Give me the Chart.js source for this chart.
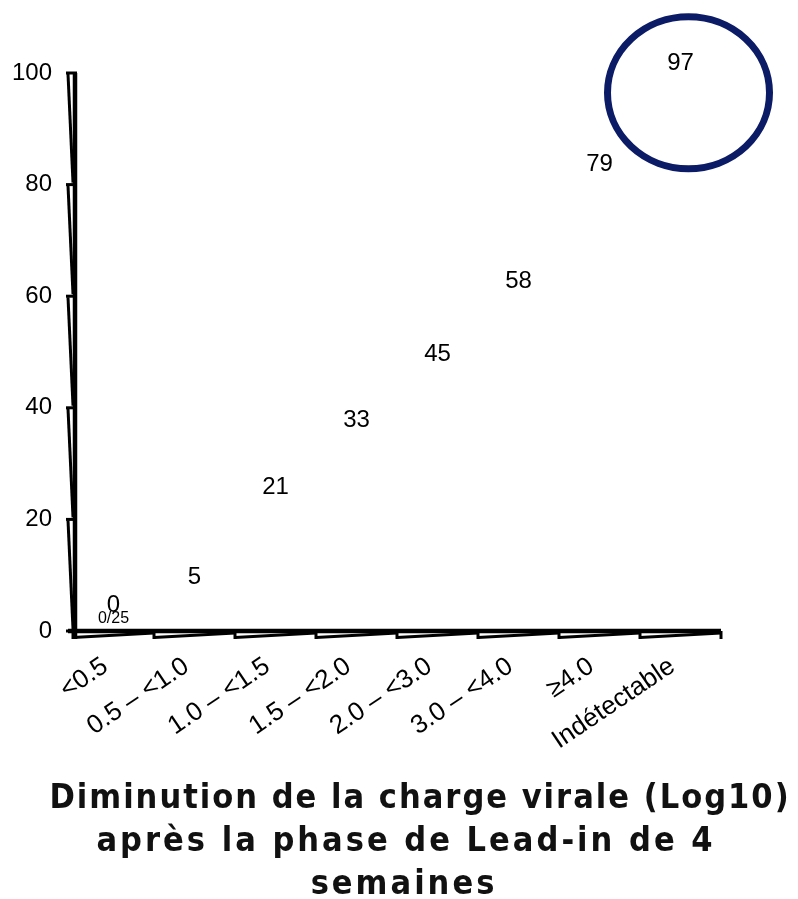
<!DOCTYPE html>
<html>
<head>
<meta charset="utf-8">
<script src="https://cdn.jsdelivr.net/npm/chart.js@4.4.1/dist/chart.umd.min.js"></script>
<style>
  body { margin: 0; background: #fff; }
</style>
</head>
<body>
<canvas id="chart" width="798" height="899"></canvas>
<script>
// données
const categories = ["<0.5", "0.5 – <1.0", "1.0 – <1.5", "1.5 – <2.0", "2.0 – <3.0", "3.0 – <4.0", "≥4.0", "Indétectable"];
const values = [0, 5, 21, 33, 45, 58, 79, 97];
const subLabels = ["0/25", "", "", "", "", "", "", ""];
const yTicks = [0, 20, 40, 60, 80, 100];
const titleLines = ["Diminution de la charge virale (Log10)", "après la phase de Lead-in de 4", "semaines"];
const circledIndex = 7;

const arial = "'Liberation Sans', Arial, sans-serif";

// axes dessinés "en relief" comme dans l'original
const fakeAxes = {
  id: "fakeAxes",
  afterDraw(chart) {
    const ctx = chart.ctx;
    const area = chart.chartArea;
    const y = chart.scales.y;
    ctx.save();
    ctx.strokeStyle = "#000";
    ctx.lineCap = "butt";

    // axe vertical
    ctx.lineWidth = 4.5;
    ctx.beginPath();
    ctx.moveTo(area.left + 2, area.top);
    ctx.lineTo(area.left + 2, area.bottom + 8);
    ctx.stroke();

    ctx.lineWidth = 3;
    for (let i = 0; i < yTicks.length; i++) {
      const py = y.getPixelForValue(yTicks[i]);
      ctx.beginPath();
      ctx.moveTo(area.left - 7, py);
      ctx.lineTo(area.left + 4, py);
      ctx.stroke();
      if (i > 0) {
        const below = y.getPixelForValue(yTicks[i - 1]);
        ctx.lineWidth = 3;
        ctx.beginPath();
        ctx.moveTo(area.left - 5, py + 1);
        ctx.lineTo(area.left, below - 2);
        ctx.stroke();
      }
    }

    // axe horizontal
    ctx.lineWidth = 4.5;
    ctx.beginPath();
    ctx.moveTo(area.left - 5, area.bottom);
    ctx.lineTo(area.right, area.bottom);
    ctx.stroke();

    const n = categories.length;
    const step = (area.right - area.left) / n;
    ctx.lineWidth = 3;
    for (let i = 0; i <= n; i++) {
      const bx = area.left + step * i;
      ctx.beginPath();
      ctx.moveTo(bx, area.bottom);
      ctx.lineTo(bx, area.bottom + 8);
      ctx.stroke();
      if (i < n) {
        ctx.beginPath();
        ctx.moveTo(bx, area.bottom + 6.5);
        ctx.lineTo(bx + step, area.bottom + 2);
        ctx.stroke();
      }
    }
    ctx.restore();
  }
};

// valeurs au-dessus des barres + cercle
const valueLabels = {
  id: "valueLabels",
  afterDatasetsDraw(chart) {
    const ctx = chart.ctx;
    const bars = chart.getDatasetMeta(0).data;
    ctx.save();
    ctx.fillStyle = "#000";
    ctx.textAlign = "center";
    ctx.textBaseline = "middle";
    bars.forEach((bar, i) => {
      ctx.font = "24px " + arial;
      ctx.fillText(values[i], bar.x, bar.y - 26);
      if (subLabels[i]) {
        ctx.font = "16px " + arial;
        ctx.fillText(subLabels[i], bar.x, bar.y - 12);
      }
    });

    const target = bars[circledIndex];
    ctx.strokeStyle = "#0c1b66";
    ctx.lineWidth = 7;
    ctx.beginPath();
    ctx.ellipse(target.x + 8, target.y + 3, 81, 76, 0, 0, Math.PI * 2);
    ctx.stroke();
    ctx.restore();
  }
};

// titre sous le graphique
const bottomTitle = {
  id: "bottomTitle",
  afterDraw(chart) {
    const ctx = chart.ctx;
    const centers = [420, 406, 404];
    const spacing = ["2px", "3px", "3px"];
    ctx.save();
    ctx.fillStyle = "#111";
    ctx.textAlign = "center";
    ctx.textBaseline = "alphabetic";
    ctx.font = "bold 34px 'DejaVu Sans Condensed', 'DejaVu Sans', sans-serif";
    titleLines.forEach((line, i) => {
      ctx.letterSpacing = spacing[i];
      ctx.fillText(line, centers[i], 808 + i * 43);
    });
    ctx.restore();
  }
};

new Chart(document.getElementById("chart"), {
  type: "bar",
  data: {
    labels: categories,
    datasets: [{
      data: values,
      backgroundColor: "rgba(0,0,0,0)",
      borderWidth: 0
    }]
  },
  options: {
    responsive: false,
    animation: false,
    layout: { padding: { top: 73, right: 77, left: 0, bottom: 0 } },
    plugins: {
      legend: { display: false },
      tooltip: { enabled: false },
      title: { display: false }
    },
    scales: {
      x: {
        grid: { display: false, drawTicks: false },
        border: { display: false },
        ticks: {
          color: "#000",
          font: { family: arial, size: 26 },
          maxRotation: 34,
          minRotation: 34,
          padding: 20,
          labelOffset: -8,
          autoSkip: false
        },
        afterFit(scale) { scale.height = 268; }
      },
      y: {
        min: 0,
        max: 100,
        grid: { display: false, drawTicks: false },
        border: { display: false },
        ticks: {
          color: "#000",
          font: { family: arial, size: 24 },
          stepSize: 20,
          padding: 21
        },
        afterFit(scale) { scale.width = 73; }
      }
    }
  },
  plugins: [fakeAxes, valueLabels, bottomTitle]
});
</script>
</body>
</html>
